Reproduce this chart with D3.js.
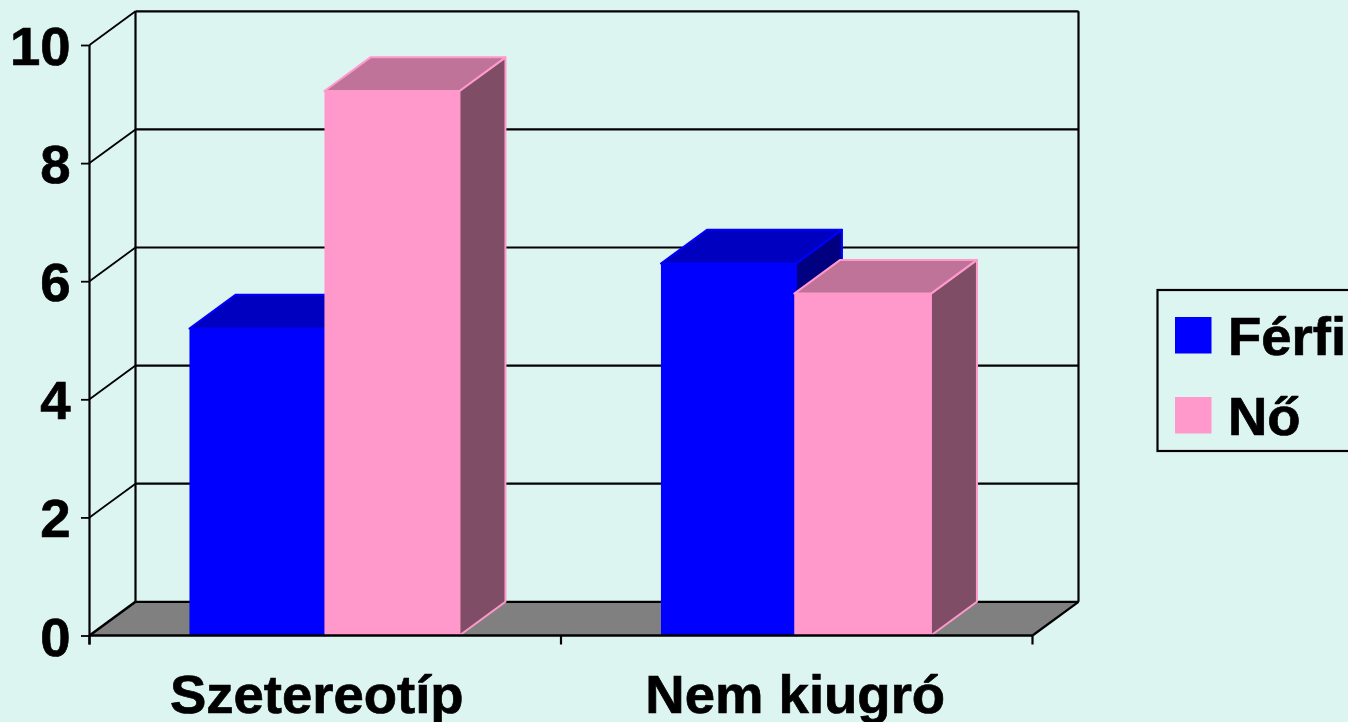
<!DOCTYPE html>
<html>
<head>
<meta charset="utf-8">
<script src="https://d3js.org/d3.v7.min.js"></script>
<style>
html,body{margin:0;padding:0;background:#DDF5F1;overflow:hidden}
svg{display:block}
text{font-family:"Liberation Sans",Arial,sans-serif;font-weight:bold;fill:#000;stroke:#000;stroke-width:0.7px}
</style>
</head>
<body>
<svg id="chart" width="1348" height="722"></svg>
<script>
const categories = ["Szetereotíp", "Nem kiugró"];
const seriesNames = ["Férfi", "Nő"];
const ferfiValues = [5.2, 6.3];
const noValues = [9.22, 5.79];
const yTicks = [0, 2, 4, 6, 8, 10];

const fronts = ["#0000FF", "#FF99CC"];
const tops = ["#0000C0", "#BF7399"];
const sides = ["#000080", "#804D66"];

const svg = d3.select("#chart");
const x0 = 89.5, x1 = 1032.5, yBase = 635.5, yTop = 45;
const dx = 46, dy = -33.7;
const labelNudge = [-8.5, -1.5];
const leftExtend = [[0, 0], [0, 1.7]];
const fontSize = "54.5px";

const x = d3.scaleBand().domain(categories).range([x0, x1]);
const y = d3.scaleLinear().domain([0, 10]).range([yBase, yTop]);
const inner = d3.scaleBand().domain(seriesNames).range([-135.8, 134.2]);

// floor
svg.append("polygon")
  .attr("points", [[x0,yBase],[x0+dx,yBase+dy],[x1+dx,yBase+dy],[x1,yBase]].join(" "))
  .attr("fill", "#808080");

const line = (a,b,c,d,w=2,col="#000") => svg.append("line")
  .attr("x1",a).attr("y1",b).attr("x2",c).attr("y2",d)
  .attr("stroke",col).attr("stroke-width",w);

// back walls and gridlines
yTicks.forEach(t => {
  const py = y(t);
  line(x0, py, x0+dx, py+dy, t === 0 ? 2.6 : 1.8);
  line(x0+dx, py+dy, x1+dx, py+dy, 2.2);
});
line(x0+dx, y(10)+dy, x0+dx, yBase+dy, 2.2);
line(x1+dx, y(10)+dy, x1+dx, yBase+dy, 2.2);
line(x1, yBase, x1+dx, yBase+dy, 2.2);

// bars
const bars = [];
categories.forEach((c,i) => {
  bars.push({c, i, s:0, v:ferfiValues[i]});
  bars.push({c, i, s:1, v:noValues[i]});
});
const gBars = svg.append("g");
bars.forEach(b => {
  const l = x(b.c) + x.bandwidth()/2 + inner(seriesNames[b.s]) - leftExtend[b.i][b.s];
  const r = x(b.c) + x.bandwidth()/2 + inner(seriesNames[b.s]) + inner.bandwidth();
  const t = y(b.v);
  const stroke = fronts[b.s];
  const g = gBars.append("g");
  g.append("polygon")
    .attr("points", [[r,t],[r+dx,t+dy],[r+dx,yBase+dy],[r,yBase]].join(" "))
    .attr("fill", sides[b.s]).attr("stroke", stroke).attr("stroke-width",2).attr("stroke-linejoin","round");
  g.append("polygon")
    .attr("points", [[l,t],[l+dx,t+dy],[r+dx,t+dy],[r,t]].join(" "))
    .attr("fill", tops[b.s]).attr("stroke", stroke).attr("stroke-width",2).attr("stroke-linejoin","round");
  g.append("rect")
    .attr("x", l).attr("y", t).attr("width", r-l).attr("height", yBase-t)
    .attr("fill", fronts[b.s]);
});

// axes
const yAxis = d3.axisLeft(y).tickValues(yTicks).tickSize(8.5).tickPadding(0).tickFormat(d3.format("d"));
const gy = svg.append("g").attr("transform", `translate(${x0},0)`).call(yAxis);
gy.select(".domain").remove();
gy.selectAll("line").attr("stroke","#000").attr("stroke-width",1.8);
gy.selectAll("text").attr("x",-19).attr("dy",null)
  .attr("y", 19.5).style("font-size",fontSize).attr("text-anchor","end");
line(x0, yTop, x0, yBase+9, 2.2);

const xAxis = d3.axisBottom(x).tickSize(0).tickPadding(0);
const gx = svg.append("g").attr("transform", `translate(0,${yBase})`).call(xAxis);
gx.select(".domain").remove();
gx.selectAll("line").remove();
gx.selectAll("text").attr("dy",null).attr("y",77.5)
  .attr("dx",(d,i)=>labelNudge[i])
  .style("font-size",fontSize).attr("text-anchor","middle");
line(x0, yBase, x1, yBase, 2.6);
[x0, x0 + x.bandwidth(), x1].forEach(p => line(p, yBase, p, yBase+9, 2.2));

// legend
svg.append("rect").attr("x",1157.5).attr("y",290).attr("width",300).attr("height",161)
  .attr("fill","none").attr("stroke","#000").attr("stroke-width",2.2);
const legendY = d3.scalePoint().domain(seriesNames).range([335, 415]);
seriesNames.forEach((s,i) => {
  svg.append("rect").attr("x",1175).attr("y",legendY(s)-18).attr("width",36.5).attr("height",36.5)
    .attr("fill",fronts[i]);
  svg.append("text").attr("x",1228).attr("y",legendY(s)+19.5).style("font-size",fontSize).text(s);
});
</script>
</body>
</html>
